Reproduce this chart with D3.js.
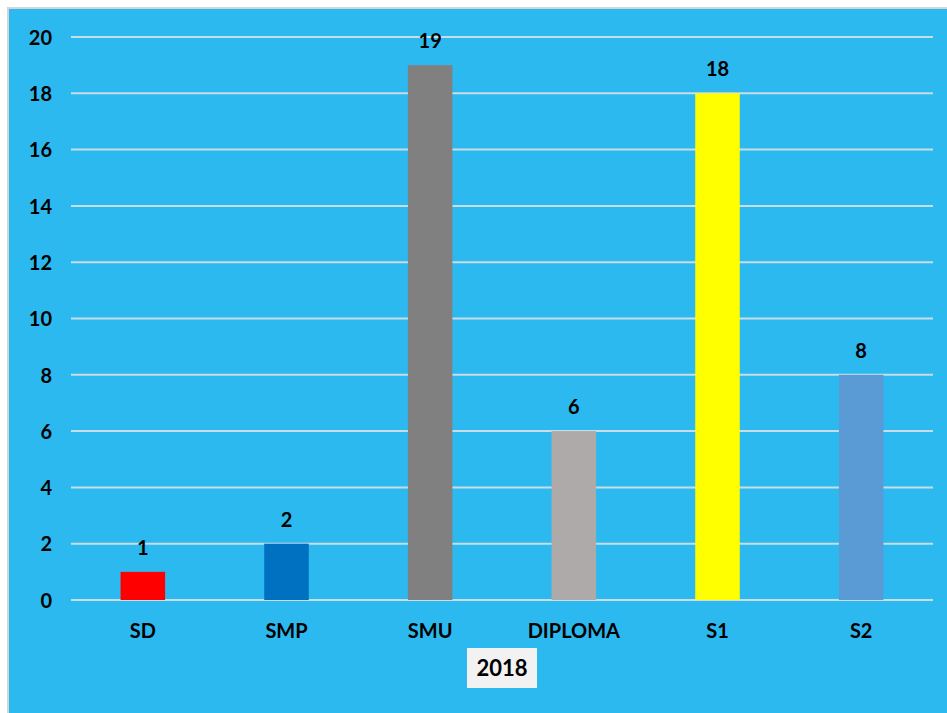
<!DOCTYPE html>
<html>
<head>
<meta charset="utf-8">
<script src="https://cdn.jsdelivr.net/npm/d3@7"></script>
<style>
  body { margin: 0; background: #fff; }
  svg text { font-family: Lato, "Open Sans", sans-serif; font-weight: bold; fill: #000; }
</style>
</head>
<body>
<div id="chart"></div>
<script>
// data
var categories = ["SD", "SMP", "SMU", "DIPLOMA", "S1", "S2"];
var values = [1, 2, 19, 6, 18, 8];
var barColors = ["#ff0000", "#0070c0", "#808080", "#aeaaaa", "#ffff00", "#5b9bd5"];
var yTicks = [0, 2, 4, 6, 8, 10, 12, 14, 16, 18, 20];
var xTitle = "2018";

var W = 947, H = 713;
// plot edges (window.top is taken, so no "top" here)
var plotL = 71, plotR = 933, plotT = 37, plotB = 600;

var svg = d3.select("#chart").append("svg")
  .attr("width", W).attr("height", H);

// frame + background
svg.append("rect").attr("x", 7).attr("y", 7).attr("width", W - 7).attr("height", H - 7)
  .attr("fill", "#d4d4d4");
svg.append("rect").attr("x", 9).attr("y", 9).attr("width", W - 9).attr("height", H - 9)
  .attr("fill", "#2cb9ef");

var x = d3.scaleBand().domain(categories).range([plotL, plotR]).paddingInner(0.69).paddingOuter(0.345);
var y = d3.scaleLinear().domain([0, 20]).range([plotB, plotT]);

// gridlines
svg.append("g").selectAll("line")
  .data(yTicks).enter().append("line")
  .attr("x1", plotL).attr("x2", plotR)
  .attr("y1", function(d) { return y(d); })
  .attr("y2", function(d) { return y(d); })
  .attr("stroke", "#c9dde6").attr("stroke-width", 2);

// y axis
var yAxis = svg.append("g")
  .attr("transform", "translate(" + (plotL - 19) + ",0)")
  .call(d3.axisLeft(y).tickValues(yTicks).tickSize(0).tickPadding(0));
yAxis.select(".domain").remove();
yAxis.selectAll("text").attr("font-size", 20).attr("dy", "0.36em")
  .style("font-family", "Lato, sans-serif").style("font-weight", "bold");

// bars
svg.append("g").selectAll("rect")
  .data(values).enter().append("rect")
  .attr("x", function(d, i) { return x(categories[i]); })
  .attr("y", function(d) { return y(d); })
  .attr("width", x.bandwidth())
  .attr("height", function(d) { return y(0) - y(d); })
  .attr("fill", function(d, i) { return barColors[i]; });

// value labels
svg.append("g").selectAll("text")
  .data(values).enter().append("text")
  .attr("x", function(d, i) { return x(categories[i]) + x.bandwidth() / 2; })
  .attr("y", function(d) { return y(d) - 17; })
  .attr("text-anchor", "middle")
  .attr("font-size", 20)
  .text(function(d) { return d; });

// x axis
var xAxis = svg.append("g")
  .attr("transform", "translate(0," + plotB + ")")
  .call(d3.axisBottom(x).tickSize(0).tickPadding(24));
xAxis.select(".domain").remove();
xAxis.selectAll("text").attr("font-size", 20)
  .style("font-family", "Lato, sans-serif").style("font-weight", "bold");

// axis title box
svg.append("rect").attr("x", 467).attr("y", 648).attr("width", 70).attr("height", 40)
  .attr("fill", "#f2f2f2");
svg.append("text").attr("x", 502).attr("y", 676)
  .attr("text-anchor", "middle").attr("font-size", 22)
  .text(xTitle);
</script>
</body>
</html>
